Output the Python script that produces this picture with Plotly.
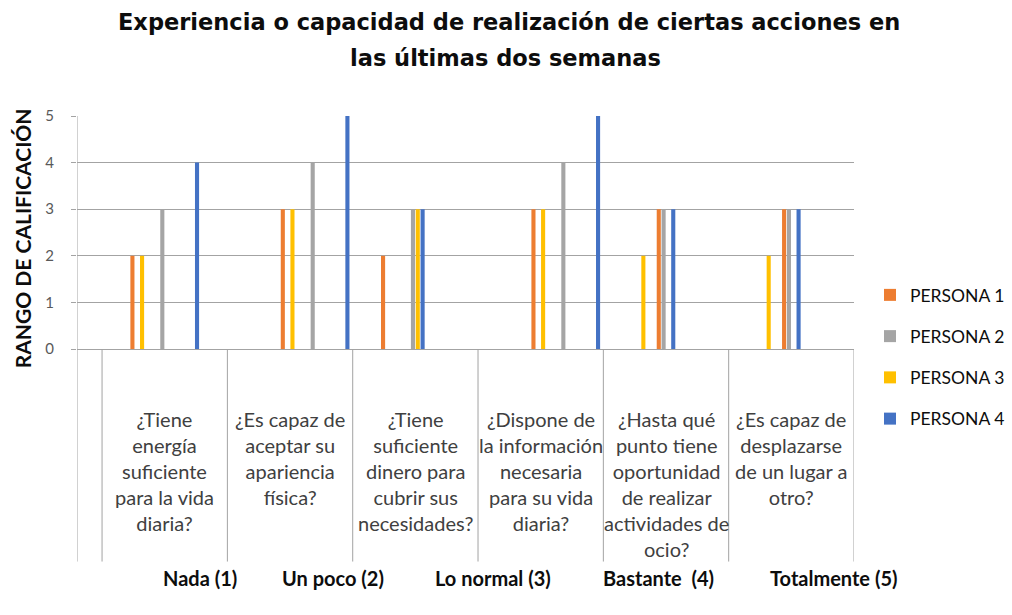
import plotly.graph_objects as go

# data: rating (1-5) given by each person to each question
questions = [
    "¿Tiene<br>energía<br>suficiente<br>para la vida<br>diaria?",
    "¿Es capaz de<br>aceptar su<br>apariencia<br>física?",
    "¿Tiene<br>suficiente<br>dinero para<br>cubrir sus<br>necesidades?",
    "¿Dispone de<br>la información<br>necesaria<br>para su vida<br>diaria?",
    "¿Hasta qué<br>punto tiene<br>oportunidad<br>de realizar<br>actividades de<br>ocio?",
    "¿Es capaz de<br>desplazarse<br>de un lugar a<br>otro?",
]
levels = ["Nada (1)", "Un poco (2)", "Lo normal (3)", "Bastante  (4)", "Totalmente (5)"]
personas = ["PERSONA 1", "PERSONA 2", "PERSONA 3", "PERSONA 4"]
persona1 = [2, 3, 2, 3, 3, 3]
persona2 = [3, 4, 3, 4, 3, 3]
persona3 = [2, 3, 3, 3, 2, 2]
persona4 = [4, 5, 3, 5, 3, 3]
colors = ["#ED7D31", "#A5A5A5", "#FFC000", "#4472C4"]

# category slots: one empty slot, then 5 rating slots per question (as in the excel sheet)
cats = [" "] + [f"q{q}-{l}" for q in range(len(questions)) for l in range(1, 6)]

fig = go.Figure()
for name, vals, col in zip(personas, [persona1, persona2, persona3, persona4], colors):
    fig.add_trace(go.Bar(
        x=[f"q{q}-{v}" for q, v in enumerate(vals)], y=vals, name=name,
        marker=dict(color=col, line=dict(width=0)), legendgroup=name,
    ))

# plot area in pixels
L, R, T, B = 77, 854, 115.5, 349
W, H = R - L, B - T
px = lambda x: (x - L) / W
py = lambda y: (B - y) / H
grid = "#A3A3A3"
font = "Lato"
title_font = "DejaVu Sans"

shapes = [dict(type="line", xref="x", yref="paper", x0=-0.5, x1=-0.5, y0=py(562), y1=1,
               line=dict(color=grid, width=1))]
for k in range(len(questions) + 1):
    xb = 0.5 + 5 * k
    shapes.append(dict(type="line", xref="x", yref="paper", x0=xb, x1=xb, y0=py(562), y1=0,
                       line=dict(color=grid, width=1)))

ann = []
for q, txt in enumerate(questions):
    ann.append(dict(text=txt, xref="x", yref="paper", x=3 + 5 * q, y=py(405),
                    xanchor="center", yanchor="top", showarrow=False,
                    font=dict(family=font, size=20, color="#404040")))
lvl_x = [200, 333, 493, 658, 834]
for t, xx in zip(levels, lvl_x):
    ann.append(dict(text=f"<b>{t}</b>", xref="paper", yref="paper", x=px(xx), y=py(578),
                    xanchor="center", yanchor="middle", showarrow=False,
                    font=dict(family=font, size=20, color="#0d0d0d")))
ann.append(dict(text="<b>Experiencia o capacidad de realización de ciertas acciones en</b>",
                xref="paper", yref="paper", x=px(509), y=py(21), xanchor="center", yanchor="middle",
                showarrow=False, font=dict(family=title_font, size=22.5, color="#0d0d0d")))
ann.append(dict(text="<b>las últimas dos semanas</b>",
                xref="paper", yref="paper", x=px(505), y=py(57), xanchor="center", yanchor="middle",
                showarrow=False, font=dict(family=title_font, size=22.5, color="#0d0d0d")))
ann.append(dict(text="<b>RANGO DE CALIFICACIÓN</b>", textangle=-90,
                xref="paper", yref="paper", x=px(22), y=py(238), xanchor="center", yanchor="middle",
                showarrow=False, font=dict(family=font, size=21, color="#0d0d0d")))

fig.update_layout(
    width=1012, height=615, autosize=False,
    margin=dict(l=L, r=1012 - R, t=T, b=615 - B),
    plot_bgcolor="white", paper_bgcolor="white",
    barmode="group", bargap=0.23, bargroupgap=0.15,
    shapes=shapes, annotations=ann,
    legend=dict(xref="container", yref="container", x=870 / 1012, y=1 - 277 / 615,
                xanchor="left", yanchor="top",
                font=dict(family=font, size=17.5, color="#0d0d0d"),
                traceorder="grouped", tracegroupgap=15.5, itemclick=False),
    font=dict(family=font),
)
fig.update_xaxes(type="category", categoryorder="array", categoryarray=cats,
                 range=[-0.5, len(cats) - 0.5], showticklabels=False, showgrid=False,
                 ticks="", showline=False, zeroline=False)
fig.update_yaxes(range=[0, 5], dtick=1, showgrid=True, gridcolor=grid, gridwidth=1,
                 zeroline=True, zerolinecolor=grid, zerolinewidth=1,
                 ticks="outside", ticklen=5, tickcolor=grid, ticklabelstandoff=14,
                 tickfont=dict(family=font, size=15, color="#595959"))

fig.write_html("out.html", config={"displayModeBar": False},
               post_script="document.body.style.margin='0';")
